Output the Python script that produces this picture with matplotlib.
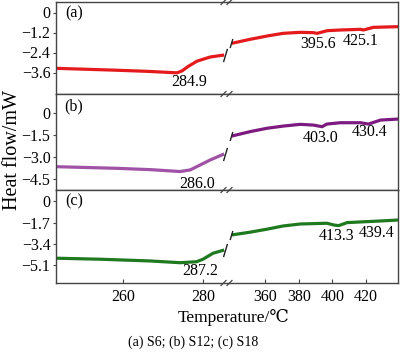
import matplotlib
matplotlib.use("Agg")
import matplotlib.pyplot as plt
from matplotlib.lines import Line2D

plt.rcParams['font.family'] = ['Liberation Serif', 'DejaVu Serif']
plt.rcParams['axes.unicode_minus'] = True

# ---------------- data ----------------
a_left_T = [243.3, 250, 258, 266, 273.5, 274.8, 276.2, 278.5, 281.8, 285.3]
a_left_v = [-3.35, -3.40, -3.46, -3.53, -3.62, -3.50, -3.25, -2.92, -2.67, -2.55]
a_right_T = [340.1, 351, 361.2, 370.7, 380.9, 388.7, 391, 397, 404.8, 416.7, 418.5, 424.5, 439.1]
a_right_v = [-1.85, -1.61, -1.41, -1.25, -1.19, -1.21, -1.25, -1.09, -1.05, -1.01, -1.05, -0.89, -0.85]

b_left_T = [243.4, 258.4, 266.8, 274.3, 276.8, 279.3, 281.8, 285.3]
b_left_v = [-3.64, -3.75, -3.84, -3.97, -3.86, -3.52, -3.18, -2.77]
b_right_T = [340.1, 351, 361, 370.7, 380.9, 388.7, 393.9, 396.8, 404.8, 416.7, 421.5, 428.7, 439.1]
b_right_v = [-1.55, -1.25, -1.02, -0.87, -0.75, -0.80, -0.91, -0.73, -0.64, -0.64, -0.73, -0.46, -0.39]

c_left_T = [243.4, 254.3, 266.8, 274.3, 278.4, 280.0, 282.5, 285.3]
c_left_v = [-4.56, -4.64, -4.78, -4.92, -4.84, -4.64, -4.16, -3.90]
c_right_T = [340.1, 351, 361, 370.7, 380.9, 396.8, 400.8, 403.8, 408.8, 420.7, 432.7, 439.1]
c_right_v = [-2.69, -2.47, -2.23, -1.97, -1.81, -1.75, -1.89, -1.94, -1.70, -1.62, -1.54, -1.49]

panel_labels = ['(a)', '(b)', '(c)']
yticks = [[0, -1.2, -2.4, -3.6], [0, -1.5, -3.0, -4.5], [0, -1.7, -3.4, -5.1]]
ylims = [(-4.89, 0.63), (-5.23, 1.32), (-6.55, 0.92)]
peak_labels = [
    [('284.9', 276.6, -4.17, 'L'), ('395.6', 391.6, -1.89, 'R'), ('425.1', 416.7, -1.71, 'R')],
    [('286.0', 278.6, -4.82, 'L'), ('403.0', 393.1, -1.65, 'R'), ('430.4', 422.1, -1.27, 'R')],
    [('287.2', 279.4, -5.58, 'L'), ('413.3', 402.7, -2.77, 'R'), ('439.4', 426.6, -2.53, 'R')],
]
left_ticks = [260, 280]
right_ticks = [360, 380, 400, 420]
xlim_left = (243.25, 286.25)
xlim_right = (337.9, 439.1)

colors_left = ['#e41a1c', '#a052a6', '#1f7a1f']
colors_right = ['#e41a1c', '#7d1a80', '#1f7a1f']
series = [(a_left_T, a_left_v, a_right_T, a_right_v),
          (b_left_T, b_left_v, b_right_T, b_right_v),
          (c_left_T, c_left_v, c_right_T, c_right_v)]

# ---------------- layout ----------------
W, H = 400, 360
fig = plt.figure(figsize=(W / 100, H / 100), dpi=100)
x0, xm, x1 = 56, 228, 398
bounds = [(2, 94), (94, 190), (190, 283)]
spc = '#444444'
fs = 11.5


def fmt(t):
    return '0' if t == 0 else ('%.1f' % t).replace('-', '\u2212')


brk = [(-0.3, -1), (0.3, 1)]
for i, (top, bot) in enumerate(bounds):
    b = 1 - bot / H
    h = (bot - top) / H
    axL = fig.add_axes([x0 / W, b, (xm - x0) / W, h])
    axR = fig.add_axes([xm / W, b, (x1 - xm) / W, h], sharey=axL)
    lT, lv, rT, rv = series[i]
    axL.plot(lT, lv, color=colors_left[i], lw=2.3, solid_capstyle='butt')
    axR.plot(rT, rv, color=colors_right[i], lw=2.3, solid_capstyle='butt')
    # break markers on curve ends
    axL.plot(lT[-1] + 0.3, lv[-1], marker=brk, ms=9.5, mew=1.0, color='#222222', ls='none')
    axR.plot(rT[0] - 0.5, rv[0], marker=brk, ms=6.5, mew=1.0, color='#222222', ls='none')
    axL.set_xlim(*xlim_left)
    axR.set_xlim(*xlim_right)
    axL.set_ylim(*ylims[i])
    axL.set_yticks(yticks[i])
    axL.set_yticklabels([fmt(t) for t in yticks[i]])
    axL.spines['right'].set_visible(False)
    axR.spines['left'].set_visible(False)
    for ax in (axL, axR):
        for s in ax.spines.values():
            s.set_color(spc)
            s.set_linewidth(1.0)
        ax.tick_params(axis='x', direction='in', length=3, width=0.8, color=spc,
                       labelsize=fs, pad=4)
        ax.tick_params(axis='y', direction='out', length=2.5, width=0.8, color=spc,
                       labelsize=fs, pad=1.5)
    axR.tick_params(axis='y', left=False, labelleft=False)
    if i < 2:
        axL.set_xticks([])
        axR.set_xticks([])
    else:
        axL.set_xticks(left_ticks)
        axR.set_xticks(right_ticks)
    axL.text(0.105, 0.875, panel_labels[i], transform=axL.transAxes,
             ha='center', va='center', fontsize=fs)
    for txt, tx, ty, side in peak_labels[i]:
        ax = axL if side == 'L' else axR
        ax.text(tx, ty, txt, ha='center', va='center', fontsize=fs)

# axis break marks on horizontal spines
for yb in [2, 94, 190, 283]:
    for dx in (-4.5, 1.5):
        fig.add_artist(Line2D([(xm + dx - 2.5) / W, (xm + dx + 2.5) / W],
                              [1 - (yb + 2.5) / H, 1 - (yb - 2.5) / H],
                              color=spc, lw=0.9))

fig.text(13 / W, 1 - 150 / H, 'Heat flow/mW', rotation=90, ha='center', va='center',
         fontsize=14.5)
fig.text(233.5 / W, 1 - 317 / H, 'Temperature/\u2103', ha='center', va='center',
         fontsize=12.5, family=['Liberation Serif', 'DejaVu Serif', 'Noto Sans CJK SC'])
fig.text(193 / W, 1 - 342 / H, '(a) S6; (b) S12; (c) S18', ha='center', va='center',
         fontsize=10)

fig.savefig('out.png', dpi=100)
